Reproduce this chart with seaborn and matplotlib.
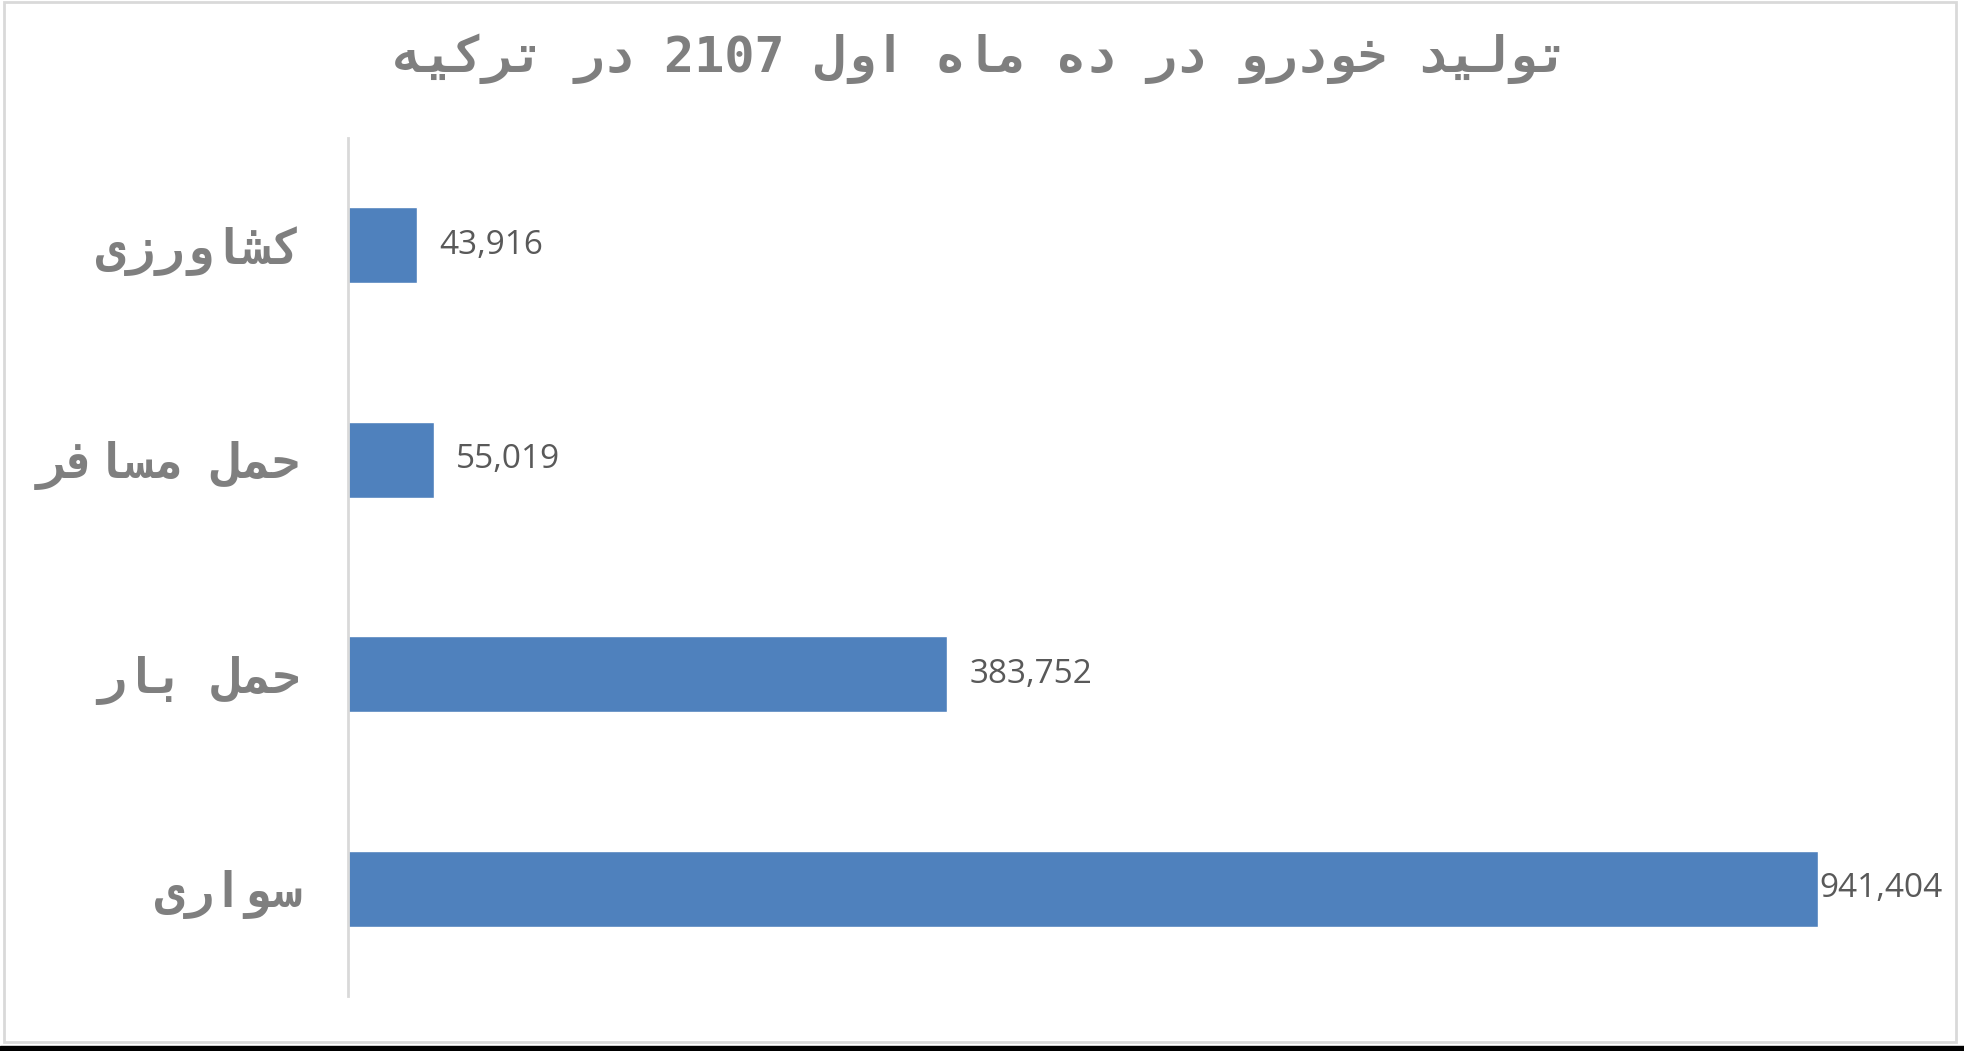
import re
import matplotlib
matplotlib.use("Agg")
import matplotlib.pyplot as plt
from matplotlib.patches import Rectangle
import seaborn as sns
import pandas as pd

# chart data
title = "تولید خودرو در ده ماه اول 2107 در ترکیه"
categories = ["کشاورزی", "حمل مسافر", "حمل بار", "سواری"]
values = [43916, 55019, 383752, 941404]

# isolated, final, initial, medial presentation forms
FORMS = {
    "ا": ("\ufe8d", "\ufe8e", None, None),
    "ب": ("\ufe8f", "\ufe90", "\ufe91", "\ufe92"),
    "ت": ("\ufe95", "\ufe96", "\ufe97", "\ufe98"),
    "ح": ("\ufea1", "\ufea2", "\ufea3", "\ufea4"),
    "خ": ("\ufea5", "\ufea6", "\ufea7", "\ufea8"),
    "د": ("\ufea9", "\ufeaa", None, None),
    "ر": ("\ufead", "\ufeae", None, None),
    "ز": ("\ufeaf", "\ufeb0", None, None),
    "س": ("\ufeb1", "\ufeb2", "\ufeb3", "\ufeb4"),
    "ش": ("\ufeb5", "\ufeb6", "\ufeb7", "\ufeb8"),
    "ف": ("\ufed1", "\ufed2", "\ufed3", "\ufed4"),
    "ل": ("\ufedd", "\ufede", "\ufedf", "\ufee0"),
    "م": ("\ufee1", "\ufee2", "\ufee3", "\ufee4"),
    "ه": ("\ufee9", "\ufeea", "\ufeeb", "\ufeec"),
    "و": ("\ufeed", "\ufeee", None, None),
    "ک": ("\ufb8e", "\ufb8f", "\ufb90", "\ufb91"),
    "ی": ("\ufbfc", "\ufbfd", "\ufbfe", "\ufbff"),
}


def shape(text):
    # join the letters and put them in visual (left to right) order
    out = []
    for i, ch in enumerate(text):
        if ch not in FORMS:
            out.append(ch)
            continue
        prev = text[i - 1] if i > 0 else ""
        nxt = text[i + 1] if i + 1 < len(text) else ""
        join_prev = prev in FORMS and FORMS[prev][2] is not None
        join_next = nxt in FORMS and FORMS[ch][2] is not None
        iso, fin, ini, med = FORMS[ch]
        if join_prev and join_next:
            out.append(med)
        elif join_prev:
            out.append(fin)
        elif join_next:
            out.append(ini)
        else:
            out.append(iso)
    s = "".join(out)[::-1]
    return re.sub(r"[0-9]+", lambda m: m.group(0)[::-1], s)


def main():
    sns.set_style("white")
    ar_font = ["DejaVu Sans Mono", "DejaVu Sans"]
    gray = "#7f7f7f"

    df = pd.DataFrame({"category": [shape(c) for c in categories], "value": values})

    fig = plt.figure(figsize=(19.65, 10.51), dpi=100)
    ax = fig.add_axes([348 / 1965, 55 / 1051, 1561.5 / 1965, 858 / 1051])

    sns.barplot(data=df, x="value", y="category", orient="h", color="#4f81bd",
                width=0.354, saturation=1, ax=ax)

    ax.set_xlim(0, 1_000_000)
    ax.set_ylim(3.5, -0.5)
    ax.set_xlabel("")
    ax.set_ylabel("")
    ax.set_xticks([])
    ax.tick_params(axis="y", length=0, pad=34)
    for lab in ax.get_yticklabels():
        lab.set_fontfamily(ar_font)
        lab.set_fontsize(35)
        lab.set_fontweight("bold")
        lab.set_color(gray)

    for side in ["top", "right", "bottom"]:
        ax.spines[side].set_visible(False)
    ax.spines["left"].set_color("#d9d9d9")
    ax.spines["left"].set_linewidth(2)

    bars = ax.containers[0]
    fmt = [f"{v:,}" for v in values]
    ax.bar_label(bars, labels=fmt[:-1] + [""], padding=16, fontsize=24,
                 color="#595959", family="Open Sans")
    ax.bar_label(bars, labels=[""] * (len(values) - 1) + [fmt[-1]], padding=1,
                 fontsize=24, color="#595959", family="Open Sans")

    fig.text(980 / 1965, 1 - 59 / 1051, shape(title), ha="center", va="center",
             fontsize=36, fontweight="bold", color=gray, family=ar_font)

    # chart area border and bottom strip
    fig.patches.append(Rectangle((4 / 1965, 9 / 1051), 1952 / 1965, 1040 / 1051,
                                 transform=fig.transFigure, fill=False,
                                 edgecolor="#d9d9d9", linewidth=2))
    fig.patches.append(Rectangle((0, 0), 1, 5 / 1051, transform=fig.transFigure,
                                 color="black"))

    fig.savefig("out.png", dpi=100)


if __name__ == "__main__":
    main()
